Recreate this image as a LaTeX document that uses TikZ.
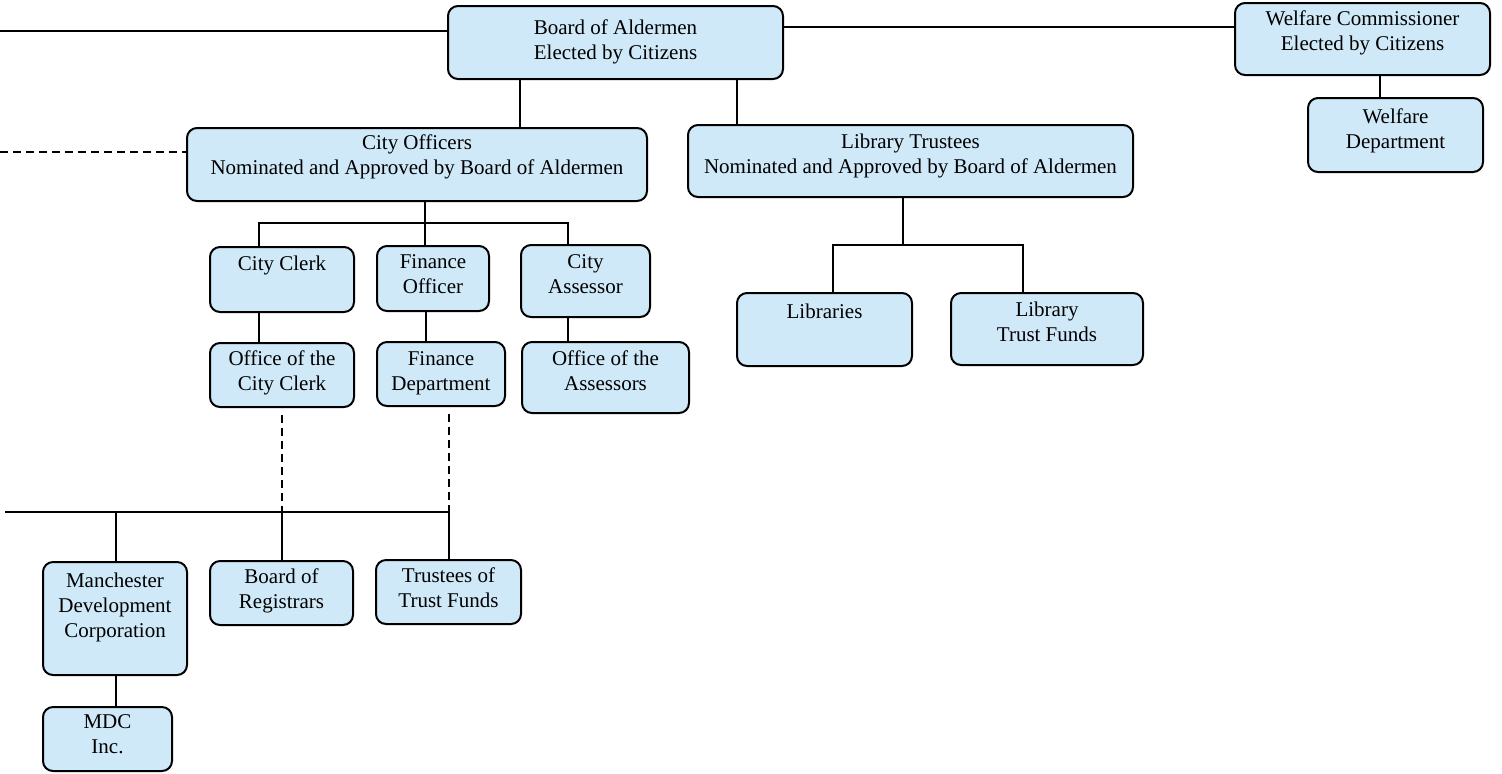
\documentclass[tikz,border=0pt]{standalone}
\usepackage{fontspec}
\setmainfont{Liberation Serif}
\definecolor{boxblue}{RGB}{207,233,248}
\newcommand{\bt}[2]{\raisebox{#1}[\height][\depth]{\begin{tabular}{@{}c@{}}#2\end{tabular}}}
\begin{document}
\begin{tikzpicture}[x=0.5pt,y=-0.5pt,
  org/.style={draw=black, line width=1pt, fill=boxblue, rounded corners=5pt,
    inner sep=0pt, outer sep=0pt, align=center,
    font=\fontsize{10.5}{12.5}\selectfont},
  link/.style={line width=1pt},
  dlink/.style={line width=1pt, dash pattern=on 4pt off 2.5pt}]
\useasboundingbox (0,0) rectangle (1502,773);

% boxes
\node[org, minimum width=167.5pt, minimum height=36.5pt] (bd) at (615.5,42.5) {\bt{0.5pt}{Board of Aldermen\\Elected by Citizens}};
\node[org, minimum width=127.5pt, minimum height=36pt] (wc) at (1362.5,39) {\bt{3pt}{Welfare Commissioner\\Elected by Citizens}};
\node[org, minimum width=87.5pt, minimum height=37pt] (wd) at (1395.5,135) {\bt{2.25pt}{Welfare\\Department}};
\node[org, minimum width=230pt, minimum height=36.5pt] (co) at (417,164.5) {\bt{3.75pt}{City Officers\\Nominated and Approved by Board of Aldermen}};
\node[org, minimum width=222.5pt, minimum height=36pt] (lt) at (910.5,161) {\bt{2.75pt}{Library Trustees\\Nominated and Approved by Board of Aldermen}};
\node[org, minimum width=72pt, minimum height=32.5pt] (cc) at (282,279.5) {\bt{7.25pt}{City Clerk}};
\node[org, minimum width=56pt, minimum height=32.5pt] (fo) at (433,278.5) {\bt{1.5pt}{Finance\\Officer}};
\node[org, minimum width=64.5pt, minimum height=36pt] (ca) at (585.5,281) {\bt{2.75pt}{City\\Assessor}};
\node[org, minimum width=72pt, minimum height=32pt] (occ) at (282,375) {\bt{1pt}{Office of the\\City Clerk}};
\node[org, minimum width=64pt, minimum height=32pt] (fd) at (441,374) {\bt{0.5pt}{Finance\\Department}};
\node[org, minimum width=83.5pt, minimum height=35.5pt] (oa) at (605.5,377.5) {\bt{2.25pt}{Office of the\\Assessors}};
\node[org, minimum width=87.5pt, minimum height=36.5pt] (lib) at (824.5,329.5) {\bt{8.25pt}{Libraries}};
\node[org, minimum width=96pt, minimum height=36pt] (ltf) at (1047,329) {\bt{2.5pt}{Library\\Trust Funds}};
\node[org, minimum width=72pt, minimum height=56.5pt] (mdcorp) at (115,618.5) {\bt{5.75pt}{Manchester\\Development\\Corporation}};
\node[org, minimum width=71.5pt, minimum height=32pt] (br) at (281.5,593) {\bt{1.25pt}{Board of\\Registrars}};
\node[org, minimum width=72.5pt, minimum height=32pt] (ttf) at (448.5,592) {\bt{1.25pt}{Trustees of\\Trust Funds}};
\node[org, minimum width=64.5pt, minimum height=32pt] (mdc) at (107.5,739) {\bt{1.75pt}{MDC\\Inc.}};

% connectors
\coordinate (pL) at (0,31);
\draw[link] (pL) -- (pL -| bd.west);
\coordinate (pR) at (700,27);
\draw[link] (pR -| bd.east) -- (pR -| wc.west);
\coordinate (xa) at (520,0);
\draw[link] (xa |- bd.south) -- (xa |- co.north);
\coordinate (xb) at (737,0);
\draw[link] (xb |- bd.south) -- (xb |- lt.north);
\coordinate (xw) at (1380,0);
\draw[link] (xw |- wc.south) -- (xw |- wd.north);
\coordinate (pD) at (0,152);
\draw[dlink] (pD) -- (pD -| co.west);

\coordinate (j1) at (425,223);
\coordinate (xcc) at (259,223);
\coordinate (xca) at (568,223);
\draw[link] (j1 |- co.south) -- (j1);
\draw[link] (xcc |- cc.north) -- (xcc) -- (xca) -- (xca |- ca.north);
\draw[link] (j1) -- (j1 |- fo.north);
\draw[link] (xcc |- cc.south) -- (xcc |- occ.north);
\coordinate (xfo) at (426,0);
\draw[link] (xfo |- fo.south) -- (xfo |- fd.north);
\draw[link] (xca |- ca.south) -- (xca |- oa.north);

\coordinate (j2) at (903,245);
\coordinate (xlib) at (833,245);
\coordinate (xltf) at (1023,245);
\draw[link] (j2 |- lt.south) -- (j2);
\draw[link] (xlib |- lib.north) -- (xlib) -- (xltf) -- (xltf |- ltf.north);

\coordinate (pB) at (5,512);
\coordinate (xbr) at (282,512);
\coordinate (xtt) at (449,512);
\coordinate (xmd) at (116,512);
\draw[link] (pB) -- (xtt) -- (xtt |- ttf.north);
\draw[link] (xbr) -- (xbr |- br.north);
\draw[link] (xmd) -- (xmd |- mdcorp.north);
\draw[link] (xmd |- mdcorp.south) -- (xmd |- mdc.north);
\draw[dlink, shorten <=4pt] (xbr |- occ.south) -- (xbr);
\draw[dlink, shorten <=4pt] (xtt |- fd.south) -- (xtt);
\end{tikzpicture}
\end{document}
